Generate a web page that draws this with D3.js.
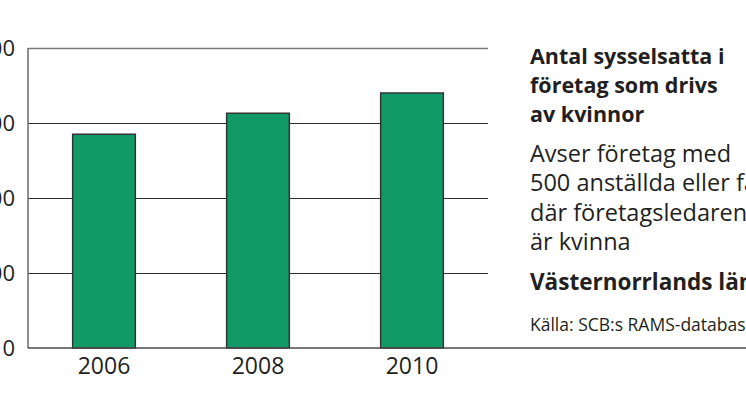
<!DOCTYPE html>
<meta charset="utf-8">
<head>
    <title>Antal sysselsatta</title>
    <script src="https://cdn.jsdelivr.net/npm/d3@7"></script>
    <style>
        body { margin: 0; background: #fff; }
        text { font-family: "Open Sans", sans-serif; fill: #231f20; }
    </style>
</head>
<body>
<script>
    // data
    var years = ["2006", "2008", "2010"];
    var values = [2850, 3130, 3400];
    var yTicks = [0, 1000, 2000, 3000, 4000];

    var titleLines = ["Antal sysselsatta i", "företag som drivs", "av kvinnor"];
    var noteLines = ["Avser företag med", "500 anställda eller färre", "där företagsledaren", "är kvinna"];
    var region = "Västernorrlands län";
    var source = "Källa: SCB:s RAMS-databas";

    var width = 746, height = 419;
    var plot = {left: 28, right: 488, top: 48, bottom: 348};

    var svg = d3.select("body").append("svg")
        .attr("width", width)
        .attr("height", height);

    var x = d3.scaleBand()
        .domain(years)
        .range([plot.left, plot.right])
        .paddingInner(0.593)
        .paddingOuter(0.29);

    var y = d3.scaleLinear()
        .domain([0, 4000])
        .range([plot.bottom, plot.top]);

    // gridlines (inner ones darker, top one grey)
    svg.append("g").selectAll("line")
        .data(yTicks.slice(1))
        .join("line")
        .attr("x1", plot.left)
        .attr("x2", plot.right)
        .attr("y1", d => y(d) + 0.5)
        .attr("y2", d => y(d) + 0.5)
        .attr("stroke", (d, i) => i == yTicks.length - 2 ? "#7a7a7a" : "#2b2b2b")
        .attr("stroke-width", (d, i) => i == yTicks.length - 2 ? 1.5 : 1);

    // left axis line
    svg.append("line")
        .attr("x1", plot.left).attr("x2", plot.left)
        .attr("y1", plot.top).attr("y2", plot.bottom)
        .attr("stroke", "#6a6a6a")
        .attr("stroke-width", 1.5);

    // y tick labels (cut at left edge like the original)
    svg.append("g").selectAll("text")
        .data(yTicks)
        .join("text")
        .attr("x", 15)
        .attr("y", d => y(d))
        .attr("dy", "0.36em")
        .attr("text-anchor", "end")
        .style("font-size", "22px")
        .text(d => d);

    // bars
    svg.append("g").selectAll("rect")
        .data(values)
        .join("rect")
        .attr("x", (d, i) => x(years[i]))
        .attr("y", d => y(d))
        .attr("width", x.bandwidth())
        .attr("height", d => y(0) - y(d))
        .attr("fill", "#129a66")
        .attr("stroke", "#333")
        .attr("stroke-width", 1.5);

    // baseline running under the text block as well
    svg.append("line")
        .attr("x1", plot.left).attr("x2", width)
        .attr("y1", plot.bottom).attr("y2", plot.bottom)
        .attr("stroke", "#4a4a4a")
        .attr("stroke-width", 1.5);

    // x labels
    svg.append("g").selectAll("text")
        .data(years)
        .join("text")
        .attr("x", d => x(d) + x.bandwidth() / 2)
        .attr("y", 374)
        .attr("text-anchor", "middle")
        .style("font-size", "23px")
        .text(d => d);

    // right-hand text block
    var tx = 530;
    svg.append("text")
        .attr("x", tx).attr("y", 64)
        .style("font-size", "21.5px")
        .style("font-weight", "bold")
        .selectAll("tspan")
        .data(titleLines)
        .join("tspan")
        .attr("x", tx)
        .attr("dy", (d, i) => i == 0 ? 0 : 29)
        .text(d => d);

    svg.append("text")
        .attr("x", tx).attr("y", 162)
        .style("font-size", "23.5px")
        .selectAll("tspan")
        .data(noteLines)
        .join("tspan")
        .attr("x", tx)
        .attr("dy", (d, i) => i == 0 ? 0 : 29.3)
        .text(d => d);

    svg.append("text")
        .attr("x", tx).attr("y", 290)
        .style("font-size", "22.5px")
        .style("font-weight", "bold")
        .text(region);

    svg.append("text")
        .attr("x", tx).attr("y", 331)
        .style("font-size", "17.5px")
        .text(source);
</script>
</body>
